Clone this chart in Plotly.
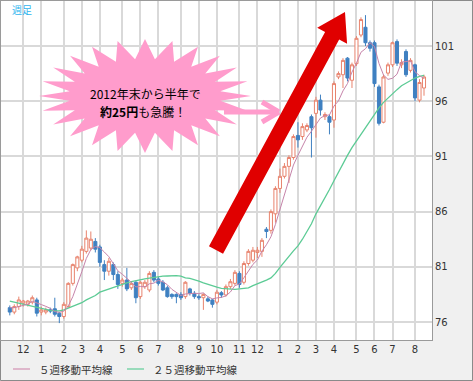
import math
import pandas as pd
import plotly.graph_objects as go

# ---------------- data ----------------
weeks = pd.date_range("2011-11-14", periods=93, freq="7D")

open_ = [77.3, 76.9, 77.4, 77.7, 77.6, 77.8, 78.0, 76.9, 76.9, 77.1,
         77.2, 76.8, 76.5, 77.4, 79.5, 80.9, 81.6, 82.4, 82.7, 83.3,
         82.8, 81.2, 80.6, 81.2, 80.3, 79.5, 79.8, 79.1, 79.6, 78.3,
         79.2, 78.9, 80.5, 79.9, 79.6, 79.1, 78.5, 78.5, 78.5, 78.3,
         79.0, 78.6, 78.3, 78.2, 78.1, 78.0, 77.8, 78.65, 78.45, 79.2,
         79.5, 80.4, 79.6, 81.3, 81.6, 82.3, 82.4, 84.4, 84.3, 85.8,
         88.1, 89.2, 90.1, 90.9, 92.9, 92.8, 93.4, 94.6, 94.9, 96.1,
         94.6, 94.6, 94.3, 98.2, 98.4, 99.9, 97.9, 99.4, 102.0, 102.7,
         101.3, 101.3, 97.3, 94.1, 98.55, 99.3, 101.4, 99.3, 100.5, 98.8,
         99.3, 96.1, 97.2]
high = [77.5, 77.6, 78.3, 78.0, 78.0, 78.4, 78.2, 77.4, 77.3, 77.3,
        78.2, 76.9, 77.8, 79.6, 81.3, 82.0, 82.9, 84.3, 84.2, 83.6,
        83.0, 81.6, 81.8, 81.4, 80.6, 80.0, 80.9, 79.7, 79.7, 79.7,
        79.8, 80.6, 80.7, 80.1, 79.8, 79.3, 78.6, 78.6, 78.7, 79.7,
        79.1, 78.8, 78.5, 78.6, 78.3, 78.1, 78.9, 78.8, 79.4, 79.9,
        80.7, 80.6, 81.5, 82.6, 82.8, 82.8, 83.6, 84.6, 86.2, 88.3,
        89.9, 90.4, 91.1, 93.0, 94.1, 94.0, 94.0, 94.8, 96.4, 96.6,
        95.0, 94.8, 97.8, 98.7, 99.9, 100.0, 99.5, 101.9, 103.6, 103.8,
        101.5, 101.5, 97.5, 98.4, 99.5, 101.4, 101.6, 99.8, 100.7, 99.9,
        99.4, 98.0, 98.4]
low = [76.6, 76.7, 77.1, 77.4, 77.4, 77.6, 76.5, 76.6, 76.7, 76.8,
       76.5, 75.9, 76.3, 77.3, 79.3, 80.6, 81.4, 82.2, 82.5, 82.3,
       81.0, 79.8, 80.2, 79.8, 79.0, 79.2, 78.8, 78.9, 77.7, 78.1,
       79.0, 78.7, 79.6, 79.3, 78.8, 78.2, 78.1, 77.7, 78.0, 78.1,
       78.4, 78.1, 78.0, 77.1, 77.8, 77.3, 77.6, 78.2, 78.3, 79.0,
       79.3, 79.1, 79.4, 81.1, 81.4, 81.8, 81.9, 83.6, 84.0, 85.0,
       87.7, 89.0, 88.6, 90.7, 91.8, 92.5, 93.2, 90.9, 92.7, 94.7,
       94.3, 93.0, 93.6, 98.0, 97.2, 97.8, 97.2, 99.2, 101.8, 101.0,
       100.5, 97.3, 93.8, 94.0, 98.3, 99.1, 99.2, 99.0, 98.2, 98.6,
       96.0, 95.9, 96.5]
close = [76.9, 77.4, 78.0, 77.9, 77.9, 78.2, 76.8, 77.1, 77.1, 77.0,
         76.7, 76.5, 77.6, 79.5, 81.2, 81.9, 82.6, 83.6, 83.5, 82.6,
         81.4, 80.6, 81.5, 80.3, 79.4, 79.8, 79.0, 79.5, 78.2, 79.6,
         79.6, 80.4, 79.8, 79.5, 78.9, 78.3, 78.3, 78.3, 78.2, 79.6,
         78.6, 78.3, 78.2, 78.5, 77.9, 77.6, 78.7, 78.45, 79.2, 79.65,
         80.5, 79.4, 81.3, 82.4, 82.5, 82.5, 83.4, 84.2, 86.0, 88.1,
         89.2, 90.1, 90.9, 92.8, 92.5, 93.7, 93.8, 93.6, 96.1, 95.2,
         94.8, 94.1, 97.6, 98.5, 99.7, 98.1, 99.3, 101.7, 103.4, 101.3,
         100.8, 97.6, 94.0, 98.2, 99.3, 101.3, 99.45, 99.5, 98.4, 99.7,
         96.3, 97.7, 98.2]
ma5 = [77.3, 77.3, 77.4, 77.5, 77.62, 77.88, 77.76, 77.58, 77.42, 77.24,
       76.94, 76.88, 76.98, 77.46, 78.3, 79.34, 80.56, 81.76, 82.56, 82.84,
       82.74, 82.34, 81.92, 81.28, 80.64, 80.32, 80.0, 79.6, 79.18, 79.22,
       79.18, 79.46, 79.52, 79.78, 79.64, 79.38, 78.96, 78.66, 78.4, 78.54,
       78.6, 78.6, 78.58, 78.64, 78.3, 78.1, 78.18, 78.23, 78.37, 78.72,
       79.3, 79.44, 80.01, 80.65, 81.22, 81.62, 82.42, 83.0, 83.72, 84.84,
       86.18, 87.52, 88.86, 90.22, 91.1, 92.0, 92.74, 93.28, 93.94, 94.48,
       94.7, 94.76, 95.56, 96.04, 96.94, 97.6, 98.64, 99.46, 100.44, 100.76,
       101.3, 100.96, 99.42, 98.38, 97.98, 98.08, 98.45, 99.55, 99.59, 99.67,
       98.67, 98.32, 98.06]
ma25 = [77.9, 77.8, 77.7, 77.6, 77.5, 77.4, 77.3, 77.2, 77.1, 77.05,
        77.0, 77.0, 77.1, 77.25, 77.4, 77.55, 77.75, 78.0, 78.2, 78.4,
        78.7, 78.85, 79.0, 79.15, 79.3, 79.45, 79.55, 79.65, 79.75, 79.85,
        79.9, 79.98, 80.05, 80.1, 80.15, 80.17, 80.2, 80.2, 80.15, 80.0,
        79.95, 79.85, 79.7, 79.55, 79.4, 79.25, 79.15, 79.05, 79.0, 78.95,
        78.95, 79.0, 79.05, 79.1, 79.3, 79.45, 79.6, 79.8, 80.0, 80.4,
        80.95, 81.4, 81.95, 82.45, 82.9, 83.5, 84.2, 84.9, 85.8, 86.5,
        87.3, 88.0, 88.8, 89.6, 90.4, 91.1, 91.8, 92.4, 93.0, 93.6,
        94.2, 94.9, 95.4, 95.9, 96.3, 96.7, 97.05, 97.4, 97.65, 97.9,
        98.1, 98.25, 98.35]

month_ticks = ["2011-12-05", "2012-01-02", "2012-02-06", "2012-03-05", "2012-04-02",
               "2012-05-07", "2012-06-04", "2012-07-02", "2012-08-06", "2012-09-03",
               "2012-10-01", "2012-11-05", "2012-12-03", "2013-01-07", "2013-02-04",
               "2013-03-04", "2013-04-01", "2013-05-06", "2013-06-03", "2013-07-01",
               "2013-08-05"]
month_labels = ["12", "1", "2", "3", "4", "5", "6", "7", "8", "9", "10", "11",
                "12", "1", "2", "3", "4", "5", "6", "7", "8"]
price_ticks = [76, 81, 86, 91, 96, 101]

legend_names = ["５週移動平均線", "２５週移動平均線"]
burst_line1 = "2012年末から半年で"
burst_line2 = "<b>約25円</b>も急騰！"
corner_label = "週足"

# ---------------- styling ----------------
W, H = 473, 381
X0, X1, Y0, Y1 = 1, 432, 1, 340   # plot area in pixels
UP = "#e8836d"
DOWN = "#3f80c1"
PINK_MA = "#c684aa"
GREEN_MA = "#5ccb95"
CJK = "Noto Sans CJK JP"


def px(x, y):
    return (x - X0) / (X1 - X0), (Y1 - y) / (Y1 - Y0)


def path_from(points):
    pts = [px(a, b) for a, b in points]
    return "M " + " L ".join(f"{a:.5f},{b:.5f}" for a, b in pts) + " Z"


fig = go.Figure()
fig.add_trace(go.Candlestick(
    x=weeks, open=open_, high=high, low=low, close=close,
    increasing=dict(line=dict(color=UP, width=1), fillcolor="white"),
    decreasing=dict(line=dict(color=DOWN, width=1), fillcolor=DOWN),
    whiskerwidth=0, showlegend=False, hoverinfo="skip"))
fig.add_trace(go.Scatter(x=weeks, y=ma25, mode="lines",
                         line=dict(color=GREEN_MA, width=1.3), showlegend=False))
fig.add_trace(go.Scatter(x=weeks, y=ma5, mode="lines",
                         line=dict(color=PINK_MA, width=1), showlegend=False))

shapes = []
# starburst
cx, cy = 145, 96
n = 24
pts = []
for k in range(2 * n):
    ang = math.pi * k / n
    if k % 2 == 0:
        rx, ry = 106, 57
    else:
        rx, ry = 76, 37
    pts.append((cx + rx * math.cos(ang), cy - ry * math.sin(ang)))
shapes.append(dict(type="path", xref="paper", yref="paper", path=path_from(pts),
                   fillcolor="#ff9ccc", line=dict(width=0), layer="above"))
# pink arrow
for seg in [((224, 112), (279, 112)), ((262, 102), (279, 112)), ((262, 122), (279, 112))]:
    (ax, ay), (bx, by) = seg
    a, b = px(ax, ay)
    c, d = px(bx, by)
    shapes.append(dict(type="line", xref="paper", yref="paper", x0=a, y0=b, x1=c, y1=d,
                       line=dict(color="#ff9ccc", width=5), layer="above"))
# red arrow
Tx, Ty = 345, 12
Bx, By = 216, 250
L = math.hypot(Tx - Bx, Ty - By)
ux, uy = (Tx - Bx) / L, (Ty - By) / L
nx, ny = -uy, ux
hw, hh, hl = 8, 17, 27
Hx, Hy = Tx - hl * ux, Ty - hl * uy
arrow = [(Bx + hw * nx, By + hw * ny), (Hx + hw * nx, Hy + hw * ny), (Hx + hh * nx, Hy + hh * ny),
         (Tx, Ty), (Hx - hh * nx, Hy - hh * ny), (Hx - hw * nx, Hy - hw * ny),
         (Bx - hw * nx, By - hw * ny)]
shapes.append(dict(type="path", xref="paper", yref="paper", path=path_from(arrow),
                   fillcolor="#e00000", line=dict(width=0), layer="above"))
# legend samples
for (xa, xb), col in [((13, 30), "#d8a5bf"), ((127, 144), "#7dd4aa")]:
    a, b = px(xa, 369)
    c, d = px(xb, 369)
    shapes.append(dict(type="line", xref="paper", yref="paper", x0=a, y0=b, x1=c, y1=d,
                       line=dict(color=col, width=1.5)))
# outer frame
a, b = px(0.5, 0.5)
c, d = px(472.5, 380.5)
shapes.append(dict(type="rect", xref="paper", yref="paper", x0=a, y0=b, x1=c, y1=d,
                   line=dict(color="#8a8a8a", width=1), layer="below"))

annotations = []


def note(text, x, y, size, color="#000000", anchor="center", family=CJK):
    a, b = px(x, y)
    annotations.append(dict(text=text, x=a, y=b, xref="paper", yref="paper",
                            xanchor=anchor, yanchor="middle", showarrow=False,
                            font=dict(family=family, size=size, color=color)))


note(burst_line1, 145, 93, 12)
note(burst_line2, 143, 111, 12)
note(corner_label, 22, 9, 10, color="#2fb4ee")
note(legend_names[0], 37, 369, 10.5, color="#333333", anchor="left")
note(legend_names[1], 151, 369, 10.5, color="#333333", anchor="left")

fig.update_layout(
    width=W, height=H,
    margin=dict(l=X0, r=W - X1, t=Y0, b=H - Y1),
    paper_bgcolor="#f0f0f0", plot_bgcolor="white",
    boxgap=0.2, boxgroupgap=0.15,
    shapes=shapes, annotations=annotations,
    showlegend=False,
    font=dict(family="DejaVu Sans", size=10, color="#333333"),
    xaxis=dict(type="date", range=["2011-10-31 08:00", "2013-08-31 10:00"],
               tickvals=month_ticks, ticktext=month_labels, ticks="",
               showgrid=True, gridcolor="#d9d9d9", gridwidth=1.5,
               showline=True, linecolor="#9a9a9a", linewidth=1, mirror=True,
               rangeslider=dict(visible=False), zeroline=False,
               tickfont=dict(family="DejaVu Sans", size=10, color="#333333")),
    yaxis=dict(range=[74.37, 105.08], side="right", tickvals=price_ticks, ticks="",
               showgrid=True, gridcolor="#d9d9d9", gridwidth=1.5,
               showline=True, linecolor="#9a9a9a", linewidth=1, mirror=True,
               zeroline=False,
               tickfont=dict(family="DejaVu Sans", size=10, color="#333333")),
)

fig.write_html("out.html")
